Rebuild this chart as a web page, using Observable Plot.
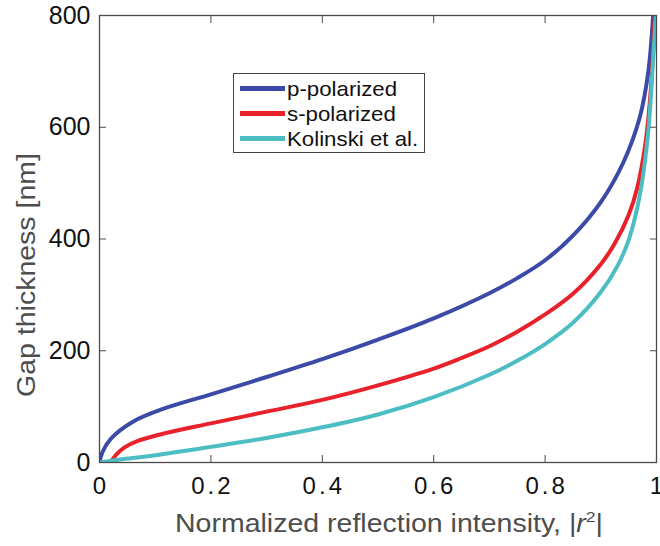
<!DOCTYPE html>
<html>
<head>
<meta charset="utf-8">
<script src="https://cdn.jsdelivr.net/npm/d3@7"></script>
<script src="https://cdn.jsdelivr.net/npm/@observablehq/plot@0.6"></script>
<style>
  body { margin: 0; background: #fff; }
  #wrap { position: relative; width: 660px; height: 546px; overflow: hidden; font-family: "Liberation Sans", Arial, sans-serif; background: #fff; }
  #wrap svg g[aria-label="x-axis tick label"] text { letter-spacing: 3px; }
  .xlabel { position: absolute; left: 175px; top: 511px; font-size: 25px; line-height: 1; color: #4d4d4d; white-space: nowrap; transform-origin: left center; transform: scaleX(1.14); }
  .xlabel sup { font-size: 0.62em; vertical-align: 0.62em; line-height: 0; }
  .ylabel { position: absolute; left: 26px; top: 275px; font-size: 25px; line-height: 1; color: #4d4d4d; white-space: nowrap; transform: translate(-50%, -50%) rotate(-90deg) scaleX(1.14); }
  .legend { position: absolute; left: 233px; top: 73px; width: 190px; height: 78px; border: 1.3px solid #444; background: #fff; }
  .legend .row { position: absolute; left: 6px; height: 25px; display: flex; align-items: center; white-space: nowrap; }
  .legend .swatch { display: inline-block; width: 45px; height: 5px; margin-right: 2px; }
  .legend .lab { font-size: 21px; color: #111; display: inline-block; transform-origin: left center; transform: scaleX(1.06); }
</style>
</head>
<body>
<div id="wrap"></div>
<script>
// ---- data ----
const seriesNames = ["p-polarized", "s-polarized", "Kolinski et al."];
const seriesColors = ["#3b4aa7", "#e8212a", "#4cbec3"];

const xTicks = [0, 0.2, 0.4, 0.6, 0.8, 1];
const xTickLabels = ["0", "0.2", "0.4", "0.6", "0.8", "1"];
const yTicks = [0, 200, 400, 600, 800];
const yTickLabels = ["0", "200", "400", "600", "800"];

const pIntensity = [0, 0.005, 0.02, 0.06, 0.12, 0.2, 0.3, 0.4, 0.5, 0.6, 0.7, 0.75, 0.8, 0.85, 0.9, 0.94, 0.97, 0.985, 0.994];
const pGap       = [0, 18, 42, 73, 98, 122, 153, 185, 220, 258, 303, 330, 362, 406, 466, 536, 618, 697, 800];

const sIntensity = [0.02, 0.03, 0.045, 0.07, 0.12, 0.2, 0.3, 0.4, 0.5, 0.6, 0.65, 0.7, 0.75, 0.8, 0.85, 0.9, 0.925, 0.95, 0.965, 0.98, 0.99, 0.997];
const sGap       = [0, 14, 27, 39, 53, 70, 91, 112, 138, 168, 187, 208, 234, 265, 302, 355, 392, 443, 490, 570, 670, 800];

const kIntensity = [0, 0.05, 0.1, 0.2, 0.3, 0.4, 0.5, 0.6, 0.7, 0.75, 0.8, 0.85, 0.9, 0.93, 0.95, 0.97, 0.985, 0.995, 0.999];
const kGap       = [0, 7, 13, 28, 44, 63, 86, 117, 157, 182, 212, 250, 305, 352, 398, 478, 590, 740, 800];

// ---- build table ----
const rows = [];
[[pIntensity, pGap], [sIntensity, sGap], [kIntensity, kGap]].forEach(([xs, ys], s) => {
  xs.forEach((x, i) => rows.push({series: seriesNames[s], intensity: x, gap: ys[i]}));
});

const axisColor = "#4a4a4a";

const chart = Plot.plot({
  width: 660,
  height: 500,
  marginLeft: 99,
  marginRight: 4,
  marginTop: 15,
  marginBottom: 38,
  x: {domain: [0, 1]},
  y: {domain: [0, 800]},
  color: {domain: seriesNames, range: seriesColors},
  style: {fontFamily: "Liberation Sans, Arial, sans-serif", color: "#111", background: "white", overflow: "visible"},
  marks: [
    Plot.line(rows, {x: "intensity", y: "gap", z: "series", stroke: "series", strokeWidth: 4, curve: "catmull-rom", clip: true}),
    Plot.frame({stroke: axisColor, strokeWidth: 1.3}),
    // inward ticks on all four sides
    Plot.axisX({anchor: "bottom", ticks: xTicks, tickSize: -7, fill: "none", label: null, stroke: axisColor}),
    Plot.axisX({anchor: "top", ticks: xTicks, tickSize: -7, fill: "none", label: null, stroke: axisColor}),
    Plot.axisY({anchor: "left", ticks: yTicks, tickSize: -7, fill: "none", label: null, stroke: axisColor}),
    Plot.axisY({anchor: "right", ticks: yTicks, tickSize: -7, fill: "none", label: null, stroke: axisColor}),
    // tick labels
    Plot.axisX({anchor: "bottom", ticks: xTicks, tickSize: 0, tickPadding: 14, fontSize: 24, label: null,
      tickFormat: (d) => xTickLabels[xTicks.indexOf(d)], dx: 1.5}),
    Plot.axisY({anchor: "left", ticks: yTicks, tickSize: 0, tickPadding: 9, fontSize: 25, label: null,
      tickFormat: (d) => yTickLabels[yTicks.indexOf(d)]})
  ]
});

const wrap = document.getElementById("wrap");
wrap.appendChild(chart);

// axis titles
const xl = document.createElement("div");
xl.className = "xlabel";
xl.innerHTML = "Normalized reflection intensity, |<i>r</i><sup>2</sup>|";
wrap.appendChild(xl);

const yl = document.createElement("div");
yl.className = "ylabel";
yl.textContent = "Gap thickness [nm]";
wrap.appendChild(yl);

// legend
const lg = document.createElement("div");
lg.className = "legend";
seriesNames.forEach((name, i) => {
  const r = document.createElement("div");
  r.className = "row";
  r.style.top = (2 + i * 25) + "px";
  const sw = document.createElement("span");
  sw.className = "swatch";
  sw.style.background = seriesColors[i];
  const t = document.createElement("span");
  t.className = "lab";
  t.textContent = name;
  r.appendChild(sw);
  r.appendChild(t);
  lg.appendChild(r);
});
wrap.appendChild(lg);
</script>
</body>
</html>
